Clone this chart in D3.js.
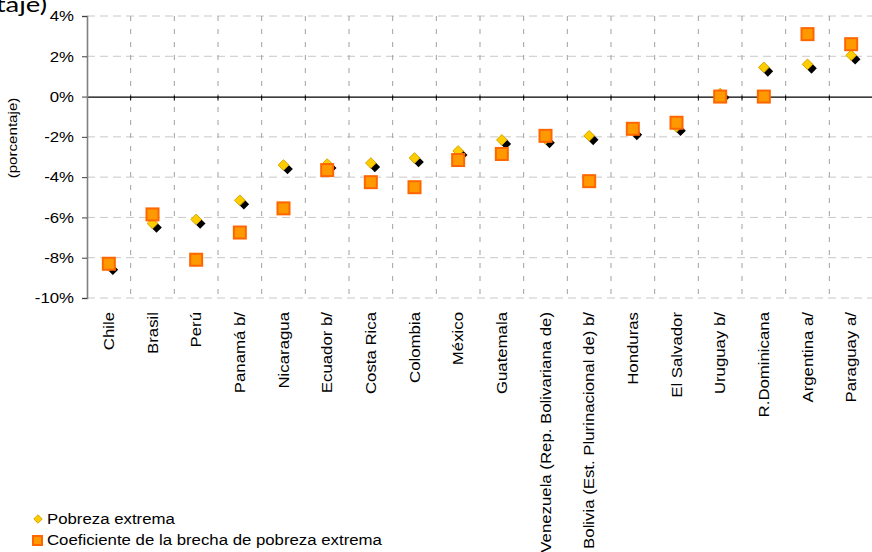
<!DOCTYPE html>
<html>
<head>
<meta charset="UTF-8">
<title>Pobreza extrema</title>
<script src="https://cdnjs.cloudflare.com/ajax/libs/d3/7.8.5/d3.min.js"></script>
<style>
  body { margin: 0; background: #fff; }
  svg text { font-family: "Liberation Sans", Arial, sans-serif; fill: #000; }
</style>
</head>
<body>
<svg id="chart" width="872" height="552"></svg>
<script>
// data (percent)
var paises = ["Chile", "Brasil", "Perú", "Panamá b/", "Nicaragua", "Ecuador b/", "Costa Rica",
  "Colombia", "México", "Guatemala", "Venezuela (Rep. Bolivariana de)",
  "Bolivia (Est. Plurinacional de) b/", "Honduras", "El Salvador", "Uruguay b/",
  "R.Dominicana", "Argentina a/", "Paraguay a/"];
var pobrezaExtrema = [-8.4, -6.3, -6.1, -5.15, -3.4, -3.35, -3.3, -3.05, -2.7, -2.15, -2.1,
  -1.95, -1.7, -1.5, 0.15, 1.45, 1.6, 2.05];
var brecha = [-8.3, -5.85, -8.1, -6.75, -5.55, -3.65, -4.25, -4.5, -3.15, -2.85, -1.95,
  -4.2, -1.6, -1.3, 0.0, 0.0, 3.1, 2.6];
var yTicks = [4, 2, 0, -2, -4, -6, -8, -10];

var svg = d3.select("#chart");
var x = d3.scaleBand().domain(paises).range([87, 873]);
var y = d3.scaleLinear().domain([-10, 4]).range([298, 16]);
var sx = 1.12; // text in the picture is a bit wider than Liberation Sans

// horizontal gridlines
svg.append("g").selectAll("line").data(yTicks.filter(d => d != 0)).enter().append("line")
  .attr("x1", 87).attr("x2", 872)
  .attr("y1", d => y(d)).attr("y2", d => y(d))
  .attr("stroke", "#c8c8c8").attr("stroke-width", 1).attr("stroke-dasharray", "8,5");

// vertical gridlines between categories
svg.append("g").selectAll("line").data(paises.slice(1)).enter().append("line")
  .attr("x1", d => x(d)).attr("x2", d => x(d))
  .attr("y1", y(4)).attr("y2", y(-10))
  .attr("stroke", "#a0a0a0").attr("stroke-width", 1).attr("stroke-dasharray", "5,8");

// zero line with ticks (x axis)
var xAxis = d3.axisBottom(x).tickSize(0).tickFormat("");
var gx = svg.append("g").attr("transform", "translate(0," + y(0) + ")").call(xAxis);
gx.select(".domain").attr("stroke", "#000").attr("stroke-width", 1.2);
gx.selectAll(".sep").data(paises.slice(1)).enter().append("line").attr("class", "sep")
  .attr("x1", d => x(d)).attr("x2", d => x(d)).attr("y1", -1).attr("y2", 4)
  .attr("stroke", "#000");

// y axis
var yAxis = d3.axisLeft(y).tickValues(yTicks).tickSize(5).tickFormat(d => d + "%");
var gy = svg.append("g").attr("transform", "translate(87,0)").call(yAxis);
gy.select(".domain").attr("stroke", "#808080").attr("stroke-width", 1.6);
gy.selectAll(".tick line").attr("stroke", "#404040");
gy.selectAll(".tick text").attr("font-size", 15).attr("x", 0)
  .attr("transform", "translate(-13,0) scale(" + sx + ",1)")
  .style("font-family", "'Liberation Sans', Arial, sans-serif");

// category labels
svg.append("g").selectAll("text").data(paises).enter().append("text")
  .attr("transform", d => "translate(" + (x(d) + x.bandwidth() / 2 + 5) + ",312) rotate(-90) scale(" + sx + ",1)")
  .attr("text-anchor", "end").attr("font-size", 15)
  .text(d => d);

// y title
svg.append("text").attr("transform", "translate(17,138) rotate(-90) scale(" + sx + ",1)")
  .attr("text-anchor", "middle").attr("font-size", 13.5).text("(porcentaje)");
svg.append("text").attr("transform", "translate(47,12) scale(1.25,1)").attr("text-anchor", "end")
  .style("font-family", "Lato, 'Open Sans', sans-serif").attr("font-size", 22).text("(en porcentaje)");

var diamond = d3.symbol().type(d3.symbolDiamond2).size(72);
var cx = (d, i) => x(paises[i]) + x.bandwidth() / 2;

// diamonds with black shadow
var gd = svg.append("g");
gd.selectAll(".shadow").data(pobrezaExtrema).enter().append("path").attr("class", "shadow")
  .attr("d", diamond)
  .attr("transform", (d, i) => "translate(" + (cx(d, i) + 4) + "," + (y(d) + 4) + ")")
  .attr("fill", "#000");
gd.selectAll(".dia").data(pobrezaExtrema).enter().append("path").attr("class", "dia")
  .attr("d", diamond)
  .attr("transform", (d, i) => "translate(" + cx(d, i) + "," + y(d) + ")")
  .attr("fill", "#ffcc00").attr("stroke", "#d4a600").attr("stroke-width", 1);

// squares
svg.append("g").selectAll("rect").data(brecha).enter().append("rect")
  .attr("x", (d, i) => cx(d, i) - 6).attr("y", d => y(d) - 6)
  .attr("width", 12).attr("height", 12)
  .attr("fill", "#ff9900").attr("stroke", "#ff6600").attr("stroke-width", 2);

// legend
var leg = svg.append("g");
leg.append("path").attr("d", d3.symbol().type(d3.symbolDiamond2).size(45))
  .attr("transform", "translate(38,519)")
  .attr("fill", "#ffcc00").attr("stroke", "#d4a600");
leg.append("text").attr("transform", "translate(47,524) scale(" + sx + ",1)")
  .attr("font-size", 15).text("Pobreza extrema");
leg.append("rect").attr("x", 33).attr("y", 536).attr("width", 9).attr("height", 9)
  .attr("fill", "#ff9900").attr("stroke", "#ff6600").attr("stroke-width", 2);
leg.append("text").attr("transform", "translate(47,545) scale(" + sx + ",1)")
  .attr("font-size", 15).text("Coeficiente de la brecha de pobreza extrema");
</script>
</body>
</html>
